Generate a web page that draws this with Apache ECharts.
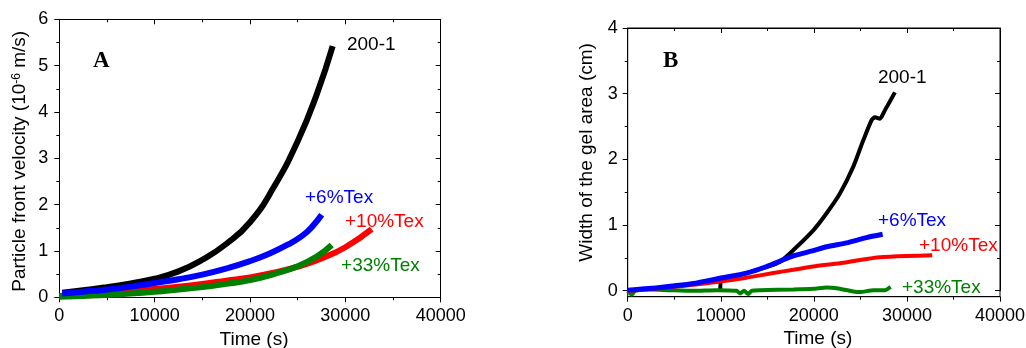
<!DOCTYPE html>
<html>
<head>
<meta charset="utf-8">
<style>html,body{margin:0;padding:0;background:#fff}#c{width:1026px;height:348px}</style>
<script src="https://cdn.jsdelivr.net/npm/echarts@6/dist/echarts.min.js"></script>
</head>
<body>
<div id="c"></div>
<script>
// ---- Panel A data: particle front velocity (1e-6 m/s) vs time (s)
const tA_200 = [300, 2500, 5000, 7500, 10000, 12500, 15000, 17500, 20000, 22500, 25000, 27000, 28670];
const vA_200 = [0.10, 0.15, 0.22, 0.30, 0.40, 0.56, 0.81, 1.15, 1.62, 2.38, 3.37, 4.38, 5.42];
const tA_6 = [300, 2500, 5000, 7500, 10000, 12500, 15000, 17500, 20000, 22000, 24000, 25500, 26500, 27520];
const vA_6 = [0.08, 0.12, 0.17, 0.23, 0.31, 0.39, 0.49, 0.62, 0.78, 0.94, 1.14, 1.33, 1.52, 1.78];
const tA_10 = [0, 2500, 5000, 7500, 10000, 12500, 15000, 17500, 20000, 22500, 25000, 27500, 30000, 32760];
const vA_10 = [0.03, 0.06, 0.10, 0.14, 0.18, 0.23, 0.29, 0.36, 0.43, 0.53, 0.66, 0.84, 1.08, 1.47];
const tA_33 = [0, 2500, 5000, 7500, 10000, 12500, 15000, 17500, 20000, 22500, 25000, 27000, 28570];
const vA_33 = [0.01, 0.03, 0.05, 0.08, 0.12, 0.17, 0.22, 0.29, 0.37, 0.50, 0.67, 0.88, 1.13];

// ---- Panel B data: width of the gel area (cm) vs time (s)
const tB_200 = [9950, 10050, 12000, 14930, 16360, 17800, 19940, 21370, 22800, 24240, 25310, 26210, 26570, 27100, 27640, 28710];
const wB_200 = [0.02, 0.16, 0.24, 0.36, 0.44, 0.62, 0.92, 1.18, 1.48, 1.89, 2.29, 2.60, 2.64, 2.62, 2.75, 3.02];
const tB_6 = [0, 3470, 7050, 9900, 12780, 14930, 17800, 19940, 21370, 23520, 25670, 27390];
const wB_6 = [0.01, 0.05, 0.11, 0.19, 0.27, 0.37, 0.53, 0.61, 0.67, 0.73, 0.81, 0.86];
const tB_10 = [0, 3500, 7050, 9900, 12780, 15650, 17800, 19940, 22800, 24950, 27100, 29970, 32720];
const wB_10 = [0.00, 0.04, 0.09, 0.14, 0.20, 0.27, 0.32, 0.37, 0.42, 0.47, 0.51, 0.53, 0.54];
const tB_33 = [0, 430, 800, 2400, 4500, 7050, 9500, 11700, 12070, 12500, 12960, 13300, 14220, 17800, 19940, 21370, 22450, 24240, 24950, 26390, 27640, 28250];
const wB_33 = [0.00, -0.06, 0.00, 0.02, 0.01, 0.00, 0.01, 0.00, -0.04, 0.00, -0.05, 0.00, 0.01, 0.02, 0.03, 0.05, 0.04, -0.01, -0.02, 0.01, 0.01, 0.06];

// ---- Axis ticks
const xTicks = [0, 10000, 20000, 30000, 40000];
const yTicksA = [0, 1, 2, 3, 4, 5, 6];
const yTicksB = [0, 1, 2, 3, 4];

// ---- Annotation labels [text, x, y]
const labelsA = [["200-1", 30170, 5.45], ["+6%Tex", 25770, 2.14], ["+10%Tex", 29960, 1.64], ["+33%Tex", 29550, 0.676]];
const labelsB = [["200-1", 26890, 3.24], ["+6%Tex", 26890, 1.06], ["+10%Tex", 31300, 0.68], ["+33%Tex", 29470, 0.04]];
const panelLetters = [["A", 3530, 5.1], ["B", 3790, 3.5]];

const COLORS = ['#000000', '#0000ff', '#ff0000', '#008000'];
const FONT = "'Liberation Sans', Arial, sans-serif";

const zip = (a, b) => a.map((v, i) => [v, b[i]]);

const chart = echarts.init(document.getElementById('c'), null, {renderer: 'canvas'});

function xAx(grid, pos, labels, showName, gap) {
  return {
    type: 'value', gridIndex: grid, position: pos,
    min: xTicks[0], max: xTicks[xTicks.length - 1], interval: xTicks[1] - xTicks[0],
    axisLine: {show: true, onZero: false, lineStyle: {color: '#000', width: 1}},
    axisTick: {show: true, inside: !labels, length: 5, lineStyle: {color: '#000'}},
    minorTick: {show: true, splitNumber: 2, length: 3, lineStyle: {color: '#000'}},
    splitLine: {show: false},
    axisLabel: {show: labels, color: '#000', fontSize: 18, fontFamily: FONT, margin: 10, formatter: v => String(v)},
    name: showName ? 'Time (s)' : '', nameLocation: 'middle', nameGap: gap || 32,
    nameTextStyle: {color: '#000', fontSize: 19, fontFamily: FONT, padding: [0, 0, 0, 8]}
  };
}
function yAx(grid, pos, ticks, labels, margin, nameOpts) {
  return Object.assign({
    type: 'value', gridIndex: grid, position: pos,
    min: ticks[0], max: ticks[ticks.length - 1], interval: 1,
    axisLine: {show: true, onZero: false, lineStyle: {color: '#000', width: 1}},
    axisTick: {show: true, inside: !labels, length: 5, lineStyle: {color: '#000'}},
    minorTick: {show: true, splitNumber: 2, length: 3, lineStyle: {color: '#000'}},
    splitLine: {show: false},
    axisLabel: {show: labels, color: '#000', fontSize: 18, fontFamily: FONT, margin: margin || 11, formatter: v => String(v)},
    nameLocation: 'middle'
  }, nameOpts || {});
}

function annot(list, color) {
  return list.map(([t, x, y]) => ({
    coord: [x, y], symbolSize: 0,
    label: {show: true, position: 'right', distance: 0, formatter: t, color: color, fontSize: 19, fontFamily: FONT}
  }));
}
function letter(l) {
  return {coord: [l[1], l[2]], symbolSize: 0,
    label: {show: true, position: 'right', distance: 0, formatter: l[0], color: '#000', fontSize: 23, fontWeight: 'bold', fontFamily: "'Liberation Serif', 'Times New Roman', serif"}};
}

function line(name, data, xi, yi, color, width, smooth, marks) {
  return {
    type: 'line', name, data, xAxisIndex: xi, yAxisIndex: yi,
    showSymbol: false, symbol: 'none', smooth: smooth,
    lineStyle: {color, width, cap: 'butt'}, itemStyle: {color},
    animation: false, silent: true,
    markPoint: marks ? {symbol: 'circle', symbolSize: 0, silent: true, animation: false, data: marks} : undefined
  };
}

const yNameA = {
  name: '{n|Particle front velocity (10}{s|-6}{n| m/s)}', nameGap: 30,
  nameTextStyle: {color: '#000', fontFamily: FONT, padding: [0, 6, 0, 0],
    rich: {n: {fontSize: 19, fontFamily: FONT, color: '#000'}, s: {fontSize: 12, fontFamily: FONT, color: '#000', verticalAlign: 'top'}}}
};
const yNameB = {
  name: 'Width of the gel area (cm)', nameGap: 31,
  nameTextStyle: {color: '#000', fontSize: 19, fontFamily: FONT, padding: [0, 0, 0, 14]}
};

const G = {outerBoundsMode: 'none', containLabel: false};
const option = {
  backgroundColor: '#fff',
  animation: false,
  grid: [
    Object.assign({left: 59.3, top: 19.3, width: 381.4, height: 278}, G),
    Object.assign({left: 627.7, top: 28, width: 372.3, height: 268.7, show: true, borderColor: '#000', borderWidth: 1, backgroundColor: 'transparent'}, G),
    Object.assign({left: 627.7, top: 28, width: 372.3, height: 262.7}, G)
  ],
  xAxis: [
    xAx(0, 'bottom', true, true, 32),
    xAx(0, 'top', false, false),
    xAx(1, 'bottom', true, true, 30),
    xAx(1, 'top', false, false),
    Object.assign(xAx(2, 'bottom', false, false), {show: false})
  ],
  yAxis: [
    yAx(0, 'left', yTicksA, true, 11, yNameA),
    yAx(0, 'right', yTicksA, false),
    {type: 'value', gridIndex: 1, min: -0.09, max: yTicksB[yTicksB.length - 1], show: false},
    yAx(2, 'left', yTicksB, true, 10, yNameB),
    yAx(2, 'right', yTicksB, false)
  ],
  series: [
    line('200-1', zip(tA_200, vA_200), 0, 0, COLORS[0], 6, 0.5, annot([labelsA[0]], COLORS[0]).concat([letter(panelLetters[0])])),
    line('+10%Tex', zip(tA_10, vA_10), 0, 0, COLORS[2], 6, 0.5, annot([labelsA[2]], COLORS[2])),
    line('+33%Tex', zip(tA_33, vA_33), 0, 0, COLORS[3], 6, 0.5, annot([labelsA[3]], COLORS[3])),
    line('+6%Tex', zip(tA_6, vA_6), 0, 0, COLORS[1], 6, 0.5, annot([labelsA[1]], COLORS[1])),

    line('200-1 B', zip(tB_200, wB_200), 2, 2, COLORS[0], 4, 0.2, annot([labelsB[0]], COLORS[0]).concat([letter(panelLetters[1])])),
    line('+33%Tex B', zip(tB_33, wB_33), 2, 2, COLORS[3], 4, 0.2, annot([labelsB[3]], COLORS[3])),
    line('+10%Tex B', zip(tB_10, wB_10), 2, 2, COLORS[2], 4, 0.2, annot([labelsB[2]], COLORS[2])),
    line('+6%Tex B', zip(tB_6, wB_6), 2, 2, COLORS[1], 5, 0.2, annot([labelsB[1]], COLORS[1]))
  ]
};
chart.setOption(option);
</script>
</body>
</html>
